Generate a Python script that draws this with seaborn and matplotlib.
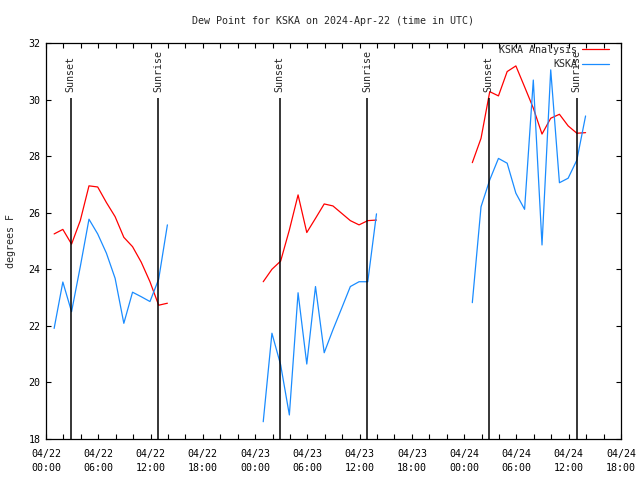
import matplotlib
matplotlib.use("Agg")
import matplotlib.pyplot as plt
import matplotlib.dates as mdates
import seaborn as sns
import pandas as pd

# hourly samples, each day starts at 00:56 UTC
days = ["2024-04-22", "2024-04-23", "2024-04-24"]
hours = list(range(14))

ana_day1 = [25.25, 25.41, 24.89, 25.72, 26.95, 26.91, 26.36, 25.86, 25.13, 24.80, 24.25, 23.56, 22.73, 22.80]
obs_day1 = [21.91, 23.55, 22.50, 24.09, 25.77, 25.25, 24.57, 23.68, 22.09, 23.19, 23.03, 22.86, 23.65, 25.57]
ana_day2 = [23.56, 24.00, 24.29, 25.39, 26.63, 25.30, 25.80, 26.31, 26.24, 25.98, 25.72, 25.57, 25.72, 25.74]
obs_day2 = [18.61, 21.74, 20.62, 18.85, 23.17, 20.65, 23.39, 21.05, 21.86, 22.62, 23.39, 23.56, 23.56, 25.96]
ana_day3 = [27.77, 28.63, 30.28, 30.13, 30.99, 31.19, 30.45, 29.70, 28.78, 29.34, 29.48, 29.07, 28.81, 28.83]
obs_day3 = [22.82, 26.21, 27.16, 27.92, 27.75, 26.69, 26.12, 30.69, 24.86, 31.05, 27.06, 27.22, 27.86, 29.42]

sunsets = ["2024-04-22 02:50", "2024-04-23 02:49", "2024-04-24 02:49"]
sunrises = ["2024-04-22 12:53", "2024-04-23 12:53", "2024-04-24 12:55"]

ana_all = [ana_day1, ana_day2, ana_day3]
obs_all = [obs_day1, obs_day2, obs_day3]

rows = []
for day, ana, obs in zip(days, ana_all, obs_all):
    start = pd.Timestamp(day + " 00:56")
    for h, a, o in zip(hours, ana, obs):
        t = start + pd.Timedelta(hours=h)
        rows.append({'time': t, 'dewp': a, 'series': 'KSKA Analysis', 'day': day})
        rows.append({'time': t, 'dewp': o, 'series': 'KSKA', 'day': day})
dfrm = pd.DataFrame(rows)

sns.set_style("ticks")
plt.rcParams['font.family'] = ['DejaVu Sans Mono']
plt.rcParams['font.size'] = 7.2

fig = plt.figure(figsize=(6.4, 4.8), dpi=100)
ax = fig.add_axes([46/640, 1-439/480, 575/640, 396/480])

sns.lineplot(data=dfrm, x='time', y='dewp', hue='series', units='day', estimator=None,
             hue_order=['KSKA Analysis', 'KSKA'], palette=['#ff0000', '#1a8cff'],
             linewidth=0.9, ax=ax)

ymin, ymax = 18, 32
line_top = 30.06
for label, times in (("Sunset", sunsets), ("Sunrise", sunrises)):
    for tstr in times:
        t = pd.Timestamp(tstr)
        ax.vlines(t, ymin, line_top, color='black', linewidth=1.1)
        ax.text(t, 30.25, label, rotation=90, ha='center', va='bottom', fontsize=7.2)

ax.set_xlim(pd.Timestamp("2024-04-22 00:00"), pd.Timestamp("2024-04-24 18:00"))
ax.set_ylim(ymin, ymax)
ax.set_yticks(range(18, 33, 2))
ax.xaxis.set_major_locator(mdates.HourLocator(byhour=[0, 6, 12, 18]))
ax.xaxis.set_minor_locator(mdates.HourLocator(interval=2))
ax.xaxis.set_major_formatter(mdates.DateFormatter('%m/%d\n%H:%M'))

ax.tick_params(which='both', direction='in', top=True, right=True, color='black',
               width=0.8, labelsize=7.2, labelcolor='black')
ax.tick_params(which='major', length=3.5)
ax.tick_params(which='minor', length=3.5)
ax.tick_params(axis='x', pad=7)
ax.tick_params(axis='y', pad=4)
for side in ax.spines.values():
    side.set_color('black')
    side.set_linewidth(0.9)

ax.set_xlabel('')
ax.set_ylabel('degrees F', fontsize=7.2, labelpad=9)
ax.set_title('Dew Point for KSKA on 2024-Apr-22 (time in UTC)', fontsize=7.2, pad=14)

leg = ax.legend(loc='upper right', bbox_to_anchor=(0.979, 0.995), frameon=False,
                markerfirst=False, handlelength=2.7, handletextpad=0.5,
                borderpad=0, borderaxespad=0, labelspacing=0.45, fontsize=7.2)

fig.canvas.draw()
for lbl in ax.get_xticklabels():
    lbl.set_linespacing(1.5)

fig.savefig('out.png', dpi=100)
